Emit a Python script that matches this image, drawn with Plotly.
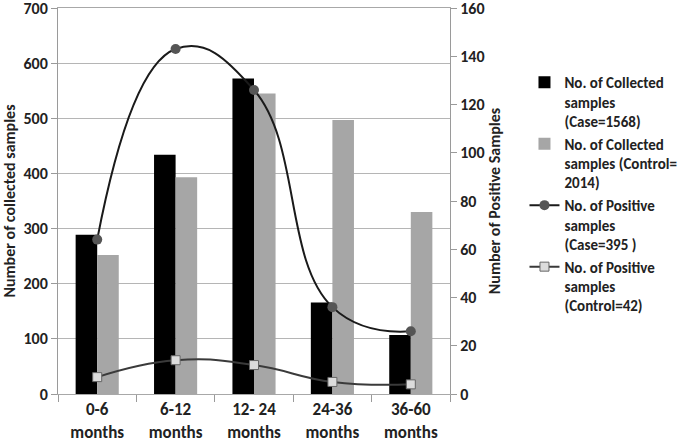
import plotly.graph_objects as go

categories = ["0-6<br>months", "6-12<br>months", "12- 24<br>months", "24-36<br>months", "36-60<br>months"]
collected_case = [289, 434, 572, 166, 107]
collected_control = [252, 393, 545, 497, 330]
positive_case = [64, 143, 126, 36, 26]
positive_control = [7, 14, 12, 5, 4]

names = [
    "No. of Collected<br>samples<br>(Case=1568)",
    "No. of Collected<br>samples (Control=<br>2014)",
    "No. of Positive<br>samples<br>(Case=395 )",
    "No. of Positive<br>samples<br>(Control=42)",
]

FONT = "Carlito, 'Liberation Sans Narrow', 'Arial Narrow', Roboto, sans-serif"

fig = go.Figure()
fig.add_trace(go.Bar(x=categories, y=collected_case, name=names[0],
                     marker=dict(color="#000000", line=dict(width=0))))
fig.add_trace(go.Bar(x=categories, y=collected_control, name=names[1],
                     marker=dict(color="#a6a6a6", line=dict(width=0))))
fig.add_trace(go.Scatter(x=categories, y=positive_case, name=names[2], yaxis="y2",
                         mode="lines+markers", line=dict(color="#1a1a1a", width=2, shape="spline", smoothing=1.3),
                         marker=dict(symbol="circle", size=10, color="#555555", line=dict(width=0))))
fig.add_trace(go.Scatter(x=categories, y=positive_control, name=names[3], yaxis="y2",
                         mode="lines+markers", line=dict(color="#3a3a3a", width=2, shape="spline", smoothing=1.3),
                         marker=dict(symbol="square", size=9, color="#dcdcdc", line=dict(width=1, color="#666666"))))

fig.update_layout(
    width=691, height=444,
    margin=dict(l=58, r=241, t=8, b=50, autoexpand=False),
    paper_bgcolor="white", plot_bgcolor="white",
    font=dict(family=FONT, size=13, color="#222222"),
    barmode="group", bargap=0.45, bargroupgap=0,
    showlegend=True,
    legend=dict(x=1.19, y=0.85, xanchor="left", yanchor="top", valign="top",
                font=dict(family=FONT, size=15, color="#222222", weight="bold"),
                tracegroupgap=7, itemwidth=30, traceorder="normal",
                bgcolor="rgba(0,0,0,0)"),
    xaxis=dict(showline=True, mirror=True, linecolor="#a8a8a8", linewidth=1, ticks="outside",
               tickson="boundaries", ticklen=7, tickcolor="#9a9a9a", automargin=False,
               ticklabeloverflow="allow",
               tickfont=dict(family=FONT, size=17, weight="bold"), showgrid=False),
    yaxis=dict(range=[0, 700], tickvals=[0, 100, 200, 300, 400, 500, 600, 700],
               showgrid=True, gridcolor="#b5b5b5", gridwidth=1, automargin=False,
               ticklabeloverflow="allow",
               showline=True, linecolor="#9a9a9a", ticks="outside", ticklen=6, tickcolor="#9a9a9a",
               tickfont=dict(family=FONT, size=16, weight="bold"), zeroline=False,
               title=dict(text="Number of collected samples", standoff=9,
                          font=dict(family=FONT, size=16, weight="bold"))),
    yaxis2=dict(range=[0, 160], tickvals=[0, 20, 40, 60, 80, 100, 120, 140, 160],
                overlaying="y", side="right", showgrid=False, automargin=False,
                ticklabeloverflow="allow",
                showline=True, linecolor="#9a9a9a", ticks="outside", ticklen=6, tickcolor="#9a9a9a",
                tickfont=dict(family=FONT, size=16, weight="bold"), zeroline=False,
                title=dict(text="Number of Positive Samples", standoff=5,
                           font=dict(family=FONT, size=16, weight="bold"))),
)

fig.write_html("out.html", config={"displayModeBar": False},
               post_script="document.body.style.margin='0';")
